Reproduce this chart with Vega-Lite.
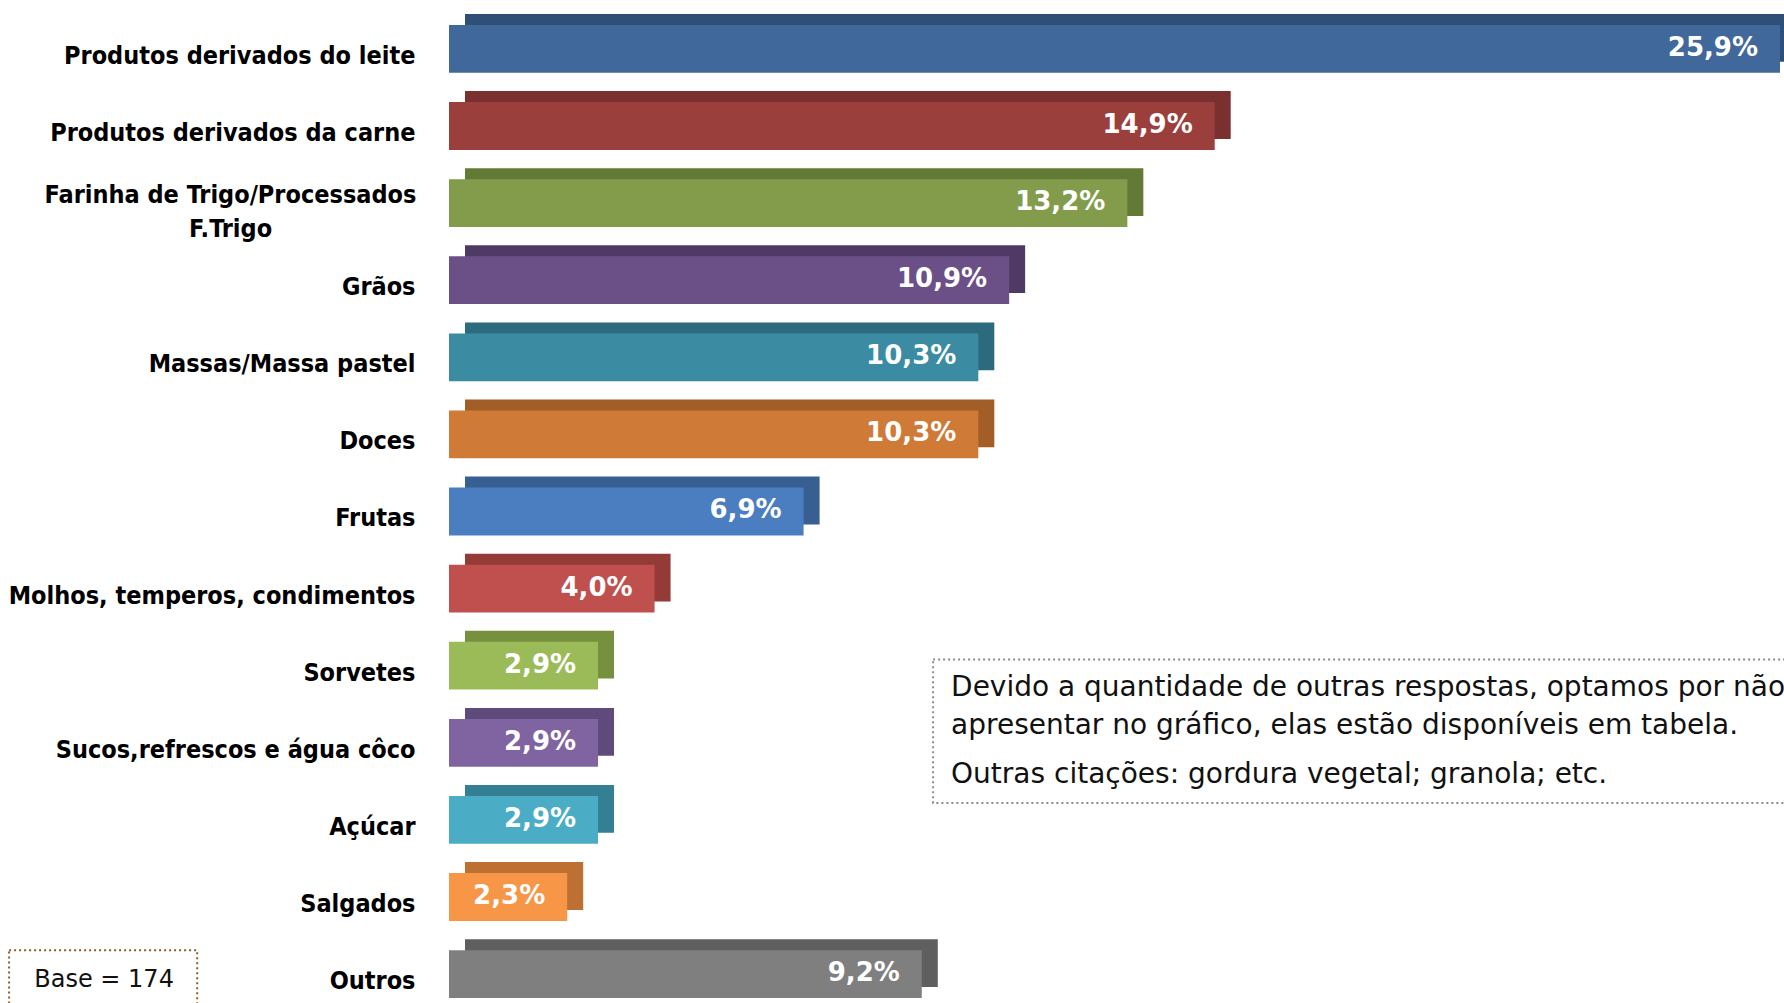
{
  "$schema": "https://vega.github.io/schema/vega-lite/v6.json",
  "width": 1331,
  "height": 998,
  "autosize": {"type": "none"},
  "padding": {"left": 449, "top": 0, "right": 4, "bottom": 5},
  "background": "white",
  "config": {"view": {"stroke": null}},
  "datasets": {
    "bars": [
      {"categoria": "Produtos derivados do leite", "pct": 25.9, "rotulo": "25,9%"},
      {"categoria": "Produtos derivados da carne", "pct": 14.9, "rotulo": "14,9%"},
      {"categoria": "Farinha de Trigo/Processados F.Trigo", "pct": 13.2, "rotulo": "13,2%"},
      {"categoria": "Grãos", "pct": 10.9, "rotulo": "10,9%"},
      {"categoria": "Massas/Massa pastel", "pct": 10.3, "rotulo": "10,3%"},
      {"categoria": "Doces", "pct": 10.3, "rotulo": "10,3%"},
      {"categoria": "Frutas", "pct": 6.9, "rotulo": "6,9%"},
      {"categoria": "Molhos, temperos, condimentos", "pct": 4.0, "rotulo": "4,0%"},
      {"categoria": "Sorvetes", "pct": 2.9, "rotulo": "2,9%"},
      {"categoria": "Sucos,refrescos e água côco", "pct": 2.9, "rotulo": "2,9%"},
      {"categoria": "Açúcar", "pct": 2.9, "rotulo": "2,9%"},
      {"categoria": "Salgados", "pct": 2.3, "rotulo": "2,3%"},
      {"categoria": "Outros", "pct": 9.2, "rotulo": "9,2%"}
    ],
    "caixas": [
      {"caixa": "nota", "x0": 9.42, "x1": 27, "y0": 8.92, "y1": 10.78},
      {"caixa": "base", "x0": -8.56, "x1": -4.9, "y0": 12.69, "y1": 14}
    ],
    "textos": [
      {"texto": "Devido a quantidade de outras respostas, optamos por não", "xpos": 9.77, "ypos": 9.29},
      {"texto": "apresentar no gráfico, elas estão disponíveis em tabela.", "xpos": 9.77, "ypos": 9.78},
      {"texto": "Outras citações: gordura vegetal; granola; etc.", "xpos": 9.77, "ypos": 10.42}
    ],
    "base": [
      {"texto": "Base = 174", "xpos": -8.07, "ypos": 13.07}
    ]
  },
  "layer": [
    {
      "layer": [
        {
          "data": {"name": "bars"},
          "mark": {"type": "bar", "xOffset": 16, "x2Offset": 16, "yOffset": -11, "y2Offset": -11},
          "encoding": {
            "y": {"field": "categoria", "type": "nominal", "sort": null,
              "scale": {"paddingInner": 0.38, "paddingOuter": 0.162, "align": 1},
              "axis": {
                "title": null, "domain": false, "ticks": false,
                "labelLimit": 600,
                "labelFont": "DejaVu Sans Condensed",
                "labelFontSize": 25,
                "labelFontWeight": "bold",
                "labelColor": "#000000",
                "labelLineHeight": 34,
                "labelBaseline": "middle",
                "labelExpr": "datum.value == 'Farinha de Trigo/Processados F.Trigo' ? ['Farinha de Trigo/Processados', 'F.Trigo'] : datum.value",
                "labelAlign": {"condition": {"test": "datum.value == 'Farinha de Trigo/Processados F.Trigo'", "value": "center"}, "value": "right"},
                "labelPadding": {"condition": {"test": "datum.value == 'Farinha de Trigo/Processados F.Trigo'", "value": 219}, "value": 34},
                "labelOffset": {"condition": {"test": "datum.value == 'Farinha de Trigo/Processados F.Trigo'", "value": -8}, "value": 7}
              }},
            "x": {"field": "pct", "type": "quantitative", "scale": {"domain": [0, 25.9], "nice": false}, "axis": null},
            "color": {"field": "categoria", "type": "nominal", "legend": null,
              "scale": {"domain": ["Produtos derivados do leite", "Produtos derivados da carne", "Farinha de Trigo/Processados F.Trigo", "Grãos", "Massas/Massa pastel", "Doces", "Frutas", "Molhos, temperos, condimentos", "Sorvetes", "Sucos,refrescos e água côco", "Açúcar", "Salgados", "Outros"],
                "range": ["#2F4F77", "#7A302E", "#637A37", "#4F3A66", "#2C6B7D", "#A35D26", "#385F91", "#943A37", "#76903F", "#5F4A7C", "#357F94", "#BE6F32", "#5F5F5F"]}}
          }
        },
        {
          "data": {"name": "bars"},
          "mark": {"type": "bar"},
          "encoding": {
            "y": {"field": "categoria", "type": "nominal", "sort": null},
            "x": {"field": "pct", "type": "quantitative"},
            "fill": {"field": "categoria", "type": "nominal", "legend": null,
              "scale": {"domain": ["Produtos derivados do leite", "Produtos derivados da carne", "Farinha de Trigo/Processados F.Trigo", "Grãos", "Massas/Massa pastel", "Doces", "Frutas", "Molhos, temperos, condimentos", "Sorvetes", "Sucos,refrescos e água côco", "Açúcar", "Salgados", "Outros"],
                "range": ["#41689A", "#9B3F3D", "#829C4B", "#6B5087", "#3B8CA3", "#CF7A37", "#4A7EC0", "#C0504D", "#9BBB59", "#8064A2", "#4BACC6", "#F79646", "#7F7F7F"]}}
          }
        },
        {
          "data": {"name": "bars"},
          "mark": {"type": "text", "align": "right", "baseline": "middle", "dx": -22, "dy": -1, "font": "DejaVu Sans", "fontSize": 26, "fontWeight": "bold", "fill": "#ffffff"},
          "encoding": {
            "y": {"field": "categoria", "type": "nominal", "sort": null},
            "x": {"field": "pct", "type": "quantitative"},
            "text": {"field": "rotulo"}
          }
        }
      ]
    },
    {
      "layer": [
        {
          "data": {"name": "caixas"},
          "mark": {"type": "rect", "fill": null, "strokeWidth": 2, "strokeDash": [2, 3], "clip": false},
          "encoding": {
            "x": {"field": "x0", "type": "quantitative"},
            "x2": {"field": "x1"},
            "y": {"field": "y0", "type": "quantitative", "scale": {"domain": [0.3645, 13.309], "reverse": true, "nice": false, "zero": false}, "axis": null},
            "y2": {"field": "y1"},
            "stroke": {"field": "caixa", "type": "nominal", "legend": null, "scale": {"domain": ["nota", "base"], "range": ["#8C8C8C", "#8B5A2B"]}}
          }
        },
        {
          "data": {"name": "textos"},
          "mark": {"type": "text", "align": "left", "baseline": "middle", "font": "DejaVu Sans", "fontSize": 28, "fill": "#111111"},
          "encoding": {
            "x": {"field": "xpos", "type": "quantitative"},
            "y": {"field": "ypos", "type": "quantitative"},
            "text": {"field": "texto"}
          }
        },
        {
          "data": {"name": "base"},
          "mark": {"type": "text", "align": "left", "baseline": "middle", "font": "DejaVu Sans", "fontSize": 24, "fill": "#111111"},
          "encoding": {
            "x": {"field": "xpos", "type": "quantitative"},
            "y": {"field": "ypos", "type": "quantitative"},
            "text": {"field": "texto"}
          }
        }
      ]
    }
  ],
  "resolve": {"scale": {"y": "independent"}, "axis": {"y": "independent"}}
}
